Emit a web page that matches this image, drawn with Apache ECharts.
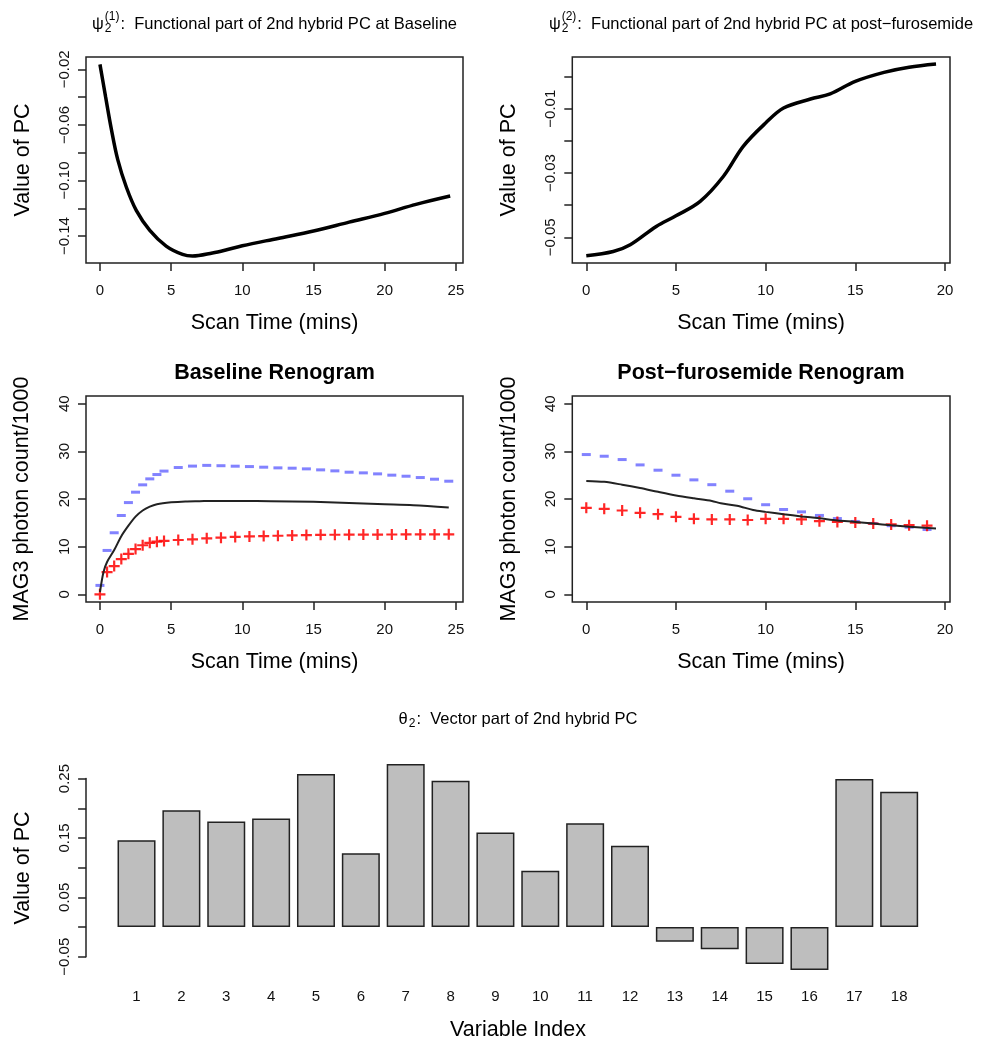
<!DOCTYPE html>
<html><head><meta charset="utf-8">
<script src="https://cdn.jsdelivr.net/npm/echarts@6/dist/echarts.min.js"></script>
<style>html,body{margin:0;padding:0;background:#fff}#c{width:984px;height:1050px}</style>
</head><body><div id="c"></div>
<script>
// ---------- data ----------
// Top-left: functional part at baseline
const tlTime  = [0, 0.4, 0.8, 1.25, 1.85, 2.55, 3.5, 4.65, 5.8, 6.5, 7.9, 8.9, 10, 12.5, 15, 17.5, 20, 22.2, 24.6];
const tlValue = [-0.0164, -0.0400, -0.0630, -0.0850, -0.1047, -0.1215, -0.1359, -0.1472, -0.1532, -0.1544, -0.1522, -0.1499, -0.1470, -0.1417, -0.1364, -0.1300, -0.1237, -0.1172, -0.1112];
// Top-right: functional part at post-furosemide
const trTime  = [0, 1.5, 2.45, 3.9, 5, 6.35, 7.65, 8.75, 10, 11, 12.5, 13.6, 15, 16.6, 18, 19.5];
const trValue = [-0.0557, -0.0544, -0.0523, -0.0466, -0.0433, -0.0388, -0.0310, -0.0217, -0.01445, -0.0098, -0.0070, -0.0054, -0.0015, 0.0013, 0.0029, 0.0039];
// Middle-left: baseline renogram
const blTime     = [0, 0.5, 1, 1.5, 2, 2.5, 3, 3.5, 4, 4.5, 5.5, 6.5, 7.5, 8.5, 9.5, 10.5, 11.5, 12.5, 13.5, 14.5, 15.5, 16.5, 17.5, 18.5, 19.5, 20.5, 21.5, 22.5, 23.5, 24.5];
const blRed      = [0, 4.68, 5.93, 7.4, 8.5, 9.5, 10.3, 10.8, 11.05, 11.2, 11.4, 11.55, 11.75, 11.9, 12.05, 12.15, 12.22, 12.29, 12.36, 12.43, 12.48, 12.5, 12.52, 12.54, 12.55, 12.56, 12.57, 12.58, 12.58, 12.6];
const blBlue     = [1.88, 9.21, 12.92, 16.54, 19.25, 21.43, 22.97, 24.22, 25.13, 25.85, 26.6, 26.9, 27.05, 26.98, 26.88, 26.8, 26.67, 26.53, 26.46, 26.32, 26.11, 25.9, 25.62, 25.48, 25.27, 25.0, 24.78, 24.5, 24.15, 23.73];
const blFitTime  = [0, 0.25, 0.5, 1, 1.5, 2, 2.5, 3, 3.5, 4, 5, 6, 7, 8, 10, 12, 15, 18, 20, 22, 24.5];
const blFit      = [0.5, 4.7, 6.8, 9.3, 12.2, 14.4, 16.3, 17.6, 18.4, 18.9, 19.3, 19.5, 19.55, 19.6, 19.6, 19.55, 19.4, 19.1, 18.9, 18.7, 18.2];
// Middle-right: post-furosemide renogram
const pfTime     = [0, 1, 2, 3, 4, 5, 6, 7, 8, 9, 10, 11, 12, 13, 14, 15, 16, 17, 18, 19];
const pfRed      = [18.15, 17.94, 17.59, 17.1, 16.82, 16.26, 15.85, 15.71, 15.71, 15.6, 15.85, 15.85, 15.71, 15.36, 15.2, 15.05, 14.85, 14.66, 14.52, 14.4];
const pfBlue     = [29.32, 28.97, 28.27, 27.15, 26.04, 24.99, 24.01, 23.0, 21.64, 20.05, 18.8, 17.8, 17.3, 16.55, 15.9, 15.29, 14.87, 14.4, 14.1, 13.61];
const pfFitTime  = [0, 1, 2, 3, 4, 5, 6, 7, 7.5, 8.4, 9.3, 10, 11, 12, 13, 14, 15, 16, 17, 18, 19.5];
const pfFit      = [23.8, 23.6, 23.0, 22.3, 21.5, 20.75, 20.15, 19.6, 19.1, 18.6, 17.7, 17.3, 16.8, 16.35, 15.95, 15.5, 15.2, 14.85, 14.5, 14.2, 13.8];
// Bottom: vector part
const varIndex  = ['1','2','3','4','5','6','7','8','9','10','11','12','13','14','15','16','17','18'];
const barValues = [0.1463, 0.1967, 0.1776, 0.1826, 0.2578, 0.1244, 0.2746, 0.2465, 0.1591, 0.0947, 0.1749, 0.1367, -0.0247, -0.0376, -0.0622, -0.0723, 0.2494, 0.2280];
// tick values
const tlXTicks = [0, 5, 10, 15, 20, 25];
const tlYTicks = [-0.14, -0.12, -0.10, -0.08, -0.06, -0.04, -0.02];
const tlYLabels = [-0.14, -0.10, -0.06, -0.02];
const trXTicks = [0, 5, 10, 15, 20];
const trYTicks = [-0.05, -0.04, -0.03, -0.02, -0.01, 0.00];
const trYLabels = [-0.05, -0.03, -0.01];
const renoYTicks = [0, 10, 20, 30, 40];
const barYTicks = [-0.05, 0, 0.05, 0.10, 0.15, 0.20, 0.25];
const barYLabels = [-0.05, 0.05, 0.15, 0.25];

// ---------- helpers ----------
const FONT = '"Liberation Sans", Arial, Helvetica, sans-serif';
const INK = '#222';
const zip = (a, b) => a.map((v, i) => [v, b[i]]);
const fmtDec = d => v => (v < 0 ? '\u2212' : '') + Math.abs(v).toFixed(d);
const fmtInt = v => String(Math.round(v));

function valAxis(gi, min, max, ticks, labels, isY, fmt) {
  return {
    type: 'value', gridIndex: gi, min: min, max: max,
    position: isY ? 'left' : 'bottom',
    axisLine: { show: false, onZero: false },
    splitLine: { show: false },
    axisTick: { show: true, inside: false, length: 8, lineStyle: { color: INK, width: 1.5 }, customValues: ticks },
    axisLabel: { show: true, customValues: labels, formatter: fmt, rotate: isY ? 90 : 0,
      margin: isY ? 14 : 20, fontSize: 15, color: '#111', fontFamily: FONT }
  };
}
function boxGrid(l, t, w, h) {
  return { left: l, top: t, width: w, height: h, show: true, borderColor: INK, borderWidth: 1.5, backgroundColor: 'transparent', containLabel: false };
}

const PLUS = 'path://M0,4.4H11V6.6H0Z M4.4,0H6.6V11H4.4Z';
const RED = '#ff0000';
const BLUE = 'rgba(60,60,255,0.8)';

// text measure
const mctx = document.createElement('canvas').getContext('2d');
function tw(text, size, weight) { mctx.font = (weight || 'normal') + ' ' + size + 'px ' + FONT; return mctx.measureText(text).width; }
function txt(x, y, text, size, opts) {
  opts = opts || {};
  const font = (opts.weight || 'normal') + ' ' + size + 'px ' + FONT;
  return {
    type: 'text', x: x, y: y, rotation: opts.rot || 0, silent: true,
    style: { text: text, font: font, fill: '#000', align: opts.align || 'center', verticalAlign: 'middle',
      textAlign: opts.align || 'center', textVerticalAlign: 'middle' }
  };
}
function mathTitle(cx, cy, sym, sub, sup, rest) {
  const M = 16.5, S = 12;
  const w0 = tw(sym, M), wsub = tw(sub, S), wsup = sup ? tw(sup, S) : 0, wr = tw(rest, M);
  const ws = Math.max(wsub, wsup) + 1;
  const total = w0 + 1 + ws + wr;
  const x = cx - total / 2;
  const els = [txt(x, cy, sym, M, { align: 'left' }), txt(x + w0 + 1, cy + 5, sub, S, { align: 'left' })];
  if (sup) els.push(txt(x + w0 + 1, cy - 7.5, sup, S, { align: 'left' }));
  els.push(txt(x + w0 + 1 + ws, cy, rest, M, { align: 'left' }));
  return els;
}

// ---------- layout ----------
const G = {
  tl: [86, 57, 377, 206],
  tr: [572.3, 57, 377.7, 206],
  ml: [86, 396, 377, 206],
  mr: [572.3, 396, 377.7, 206],
  b:  [114.1, 778.6, 807.5, 178.1]
};

const chart = echarts.init(document.getElementById('c'), null, { renderer: 'canvas' });

const graphics = [].concat(
  mathTitle(274.5, 24, '\u03C8', '2', '(1)', ':  Functional part of 2nd hybrid PC at Baseline'),
  mathTitle(761, 24, '\u03C8', '2', '(2)', ':  Functional part of 2nd hybrid PC at post\u2212furosemide'),
  mathTitle(518, 719, '\u03B8', '2', null, ':  Vector part of 2nd hybrid PC'),
  [
    txt(274.5, 373.3, 'Baseline Renogram', 21.5, { weight: 'bold' }),
    txt(761, 373.3, 'Post\u2212furosemide Renogram', 21.5, { weight: 'bold' }),
    txt(274.5, 323, 'Scan Time (mins)', 21.5),
    txt(761, 323, 'Scan Time (mins)', 21.5),
    txt(274.5, 661.7, 'Scan Time (mins)', 21.5),
    txt(761, 661.7, 'Scan Time (mins)', 21.5),
    txt(518, 1030, 'Variable Index', 21.5),
    txt(22.7, 160, 'Value of PC', 21.5, { rot: Math.PI / 2 }),
    txt(509, 160, 'Value of PC', 21.5, { rot: Math.PI / 2 }),
    txt(22, 499, 'MAG3 photon count/1000', 21.5, { rot: Math.PI / 2 }),
    txt(509, 499, 'MAG3 photon count/1000', 21.5, { rot: Math.PI / 2 }),
    txt(22.7, 868, 'Value of PC', 21.5, { rot: Math.PI / 2 })
  ]
);

const option = {
  animation: false,
  backgroundColor: '#fff',
  textStyle: { fontFamily: FONT },
  grid: [boxGrid(...G.tl), boxGrid(...G.tr), boxGrid(...G.ml), boxGrid(...G.mr),
         { left: G.b[0], top: G.b[1], width: G.b[2], height: G.b[3], show: false, containLabel: false }],
  xAxis: [
    valAxis(0, -0.98, 25.5, tlXTicks, tlXTicks, false, fmtInt),
    valAxis(1, -0.78, 20.28, trXTicks, trXTicks, false, fmtInt),
    valAxis(2, -0.98, 25.5, tlXTicks, tlXTicks, false, fmtInt),
    valAxis(3, -0.78, 20.28, trXTicks, trXTicks, false, fmtInt),
    { type: 'category', gridIndex: 4, data: varIndex, boundaryGap: true, position: 'bottom',
      axisLine: { show: false, onZero: false }, axisTick: { show: false }, splitLine: { show: false },
      axisLabel: { margin: 33, fontSize: 15, color: '#111', fontFamily: FONT, interval: 0 } }
  ],
  yAxis: [
    valAxis(0, -0.1594, -0.0111, tlYTicks, tlYLabels, true, fmtDec(2)),
    valAxis(1, -0.05796, 0.00607, trYTicks, trYLabels, true, fmtDec(2)),
    valAxis(2, -1.6, 41.6, renoYTicks, renoYTicks, true, fmtInt),
    valAxis(3, -1.6, 41.6, renoYTicks, renoYTicks, true, fmtInt),
    { type: 'value', gridIndex: 4, min: -0.05, max: 0.25, offset: 28, position: 'left',
      axisLine: { show: true, onZero: false, lineStyle: { color: INK, width: 1.5 } },
      splitLine: { show: false },
      axisTick: { show: true, length: 8, lineStyle: { color: INK, width: 1.5 }, customValues: barYTicks },
      axisLabel: { customValues: barYLabels, formatter: fmtDec(2), rotate: 90, margin: 14, fontSize: 15, color: '#111', fontFamily: FONT } }
  ],
  series: [
    { type: 'line', xAxisIndex: 0, yAxisIndex: 0, data: zip(tlTime, tlValue), showSymbol: false, smooth: 0.35,
      lineStyle: { color: '#000', width: 3.5 }, silent: true },
    { type: 'line', xAxisIndex: 1, yAxisIndex: 1, data: zip(trTime, trValue), showSymbol: false, smooth: 0.35,
      lineStyle: { color: '#000', width: 3.5 }, silent: true },

    { type: 'line', xAxisIndex: 2, yAxisIndex: 2, data: zip(blFitTime, blFit), showSymbol: false, smooth: 0.3,
      lineStyle: { color: INK, width: 2 }, silent: true },
    { type: 'scatter', xAxisIndex: 2, yAxisIndex: 2, data: zip(blTime, blBlue), symbol: 'rect', symbolSize: [9, 3],
      itemStyle: { color: BLUE }, silent: true },
    { type: 'scatter', xAxisIndex: 2, yAxisIndex: 2, data: zip(blTime, blRed), symbol: PLUS, symbolSize: [11, 11],
      itemStyle: { color: RED, opacity: 0.85 }, silent: true },

    { type: 'line', xAxisIndex: 3, yAxisIndex: 3, data: zip(pfFitTime, pfFit), showSymbol: false, smooth: 0.3,
      lineStyle: { color: INK, width: 2 }, silent: true },
    { type: 'scatter', xAxisIndex: 3, yAxisIndex: 3, data: zip(pfTime, pfBlue), symbol: 'rect', symbolSize: [9, 3],
      itemStyle: { color: BLUE }, silent: true },
    { type: 'scatter', xAxisIndex: 3, yAxisIndex: 3, data: zip(pfTime, pfRed), symbol: PLUS, symbolSize: [11, 11],
      itemStyle: { color: RED, opacity: 0.85 }, silent: true },

    { type: 'bar', xAxisIndex: 4, yAxisIndex: 4, data: barValues, barWidth: 38, clip: false,
      itemStyle: { color: '#bebebe', borderColor: INK, borderWidth: 1.5 }, silent: true }
  ],
  graphic: { elements: graphics }
};
chart.setOption(option);
</script></body></html>
